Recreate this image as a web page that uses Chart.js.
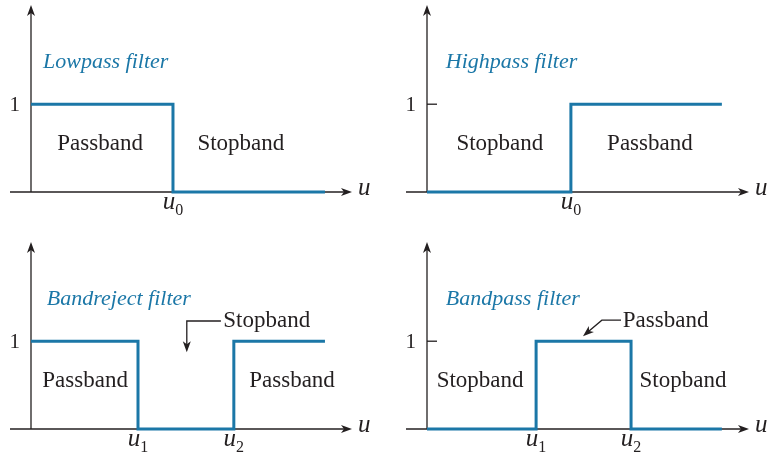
<!DOCTYPE html>
<html lang="en">
<head>
<meta charset="UTF-8">
<title>Ideal filter transfer functions</title>
<script src="https://cdn.jsdelivr.net/npm/chart.js"></script>
<style>
  html, body { margin: 0; padding: 0; background: #fff; }
  #wrap { position: relative; width: 767px; height: 454px; overflow: hidden; }
  #wrap canvas { position: absolute; }
</style>
</head>
<body>
<div id="wrap">
  <canvas id="lowpass" width="384" height="227" style="left:0;top:0"></canvas>
  <canvas id="highpass" width="383" height="227" style="left:384px;top:0"></canvas>
  <canvas id="bandreject" width="384" height="227" style="left:0;top:227px"></canvas>
  <canvas id="bandpass" width="383" height="227" style="left:384px;top:227px"></canvas>
</div>
<script>
// frequency u (line ends at 1) and filter response H(u)
const lowpassU = [0, 0.483, 0.483, 1];
const lowpassH = [1, 1, 0, 0];
const highpassU = [0, 0.488, 0.488, 1];
const highpassH = [0, 0, 1, 1];
const bandrejectU = [0, 0.364, 0.364, 0.69, 0.69, 1];
const bandrejectH = [1, 1, 0, 0, 1, 1];
const bandpassU = [0, 0.37, 0.37, 0.692, 0.692, 1];
const bandpassH = [0, 0, 1, 1, 0, 0];

// cutoff ticks on the u axis
const lowpassCuts = [0.483];
const lowpassCutLabels = ["0"];
const highpassCuts = [0.488];
const highpassCutLabels = ["0"];
const bandrejectCuts = [0.364, 0.69];
const bandrejectCutLabels = ["1", "2"];
const bandpassCuts = [0.37, 0.692];
const bandpassCutLabels = ["1", "2"];

const BLUE = "#1b77a7";
const INK = "#231f20";
const SERIF = "'Liberation Serif', 'DejaVu Serif', serif";

function arrowHead(ctx, x, y, angle) {
  ctx.save();
  ctx.translate(x, y);
  ctx.rotate(angle);
  ctx.beginPath();
  ctx.moveTo(0, 0);
  ctx.lineTo(-11, -4);
  ctx.lineTo(-8, 0);
  ctx.lineTo(-11, 4);
  ctx.closePath();
  ctx.fill();
  ctx.restore();
}

const axesPlugin = {
  id: "filterAxes",
  beforeDatasetsDraw(chart, args, opts) {
    const ctx = chart.ctx;
    const xs = chart.scales.x, ys = chart.scales.y;
    const x0 = xs.getPixelForValue(0);
    const y0 = ys.getPixelForValue(0);
    const y1 = ys.getPixelForValue(1);
    const area = chart.chartArea;
    ctx.save();
    ctx.strokeStyle = INK;
    ctx.fillStyle = INK;
    ctx.lineWidth = 1.3;
    // u axis
    ctx.beginPath();
    ctx.moveTo(x0 - 21, y0);
    ctx.lineTo(area.right - 4, y0);
    ctx.stroke();
    arrowHead(ctx, area.right, y0, 0);
    // H axis
    ctx.beginPath();
    ctx.moveTo(x0, y0);
    ctx.lineTo(x0, area.top + 4);
    ctx.stroke();
    arrowHead(ctx, x0, area.top, -Math.PI / 2);
    // tick at 1
    ctx.beginPath();
    ctx.moveTo(x0, y1);
    ctx.lineTo(x0 + 10, y1);
    ctx.stroke();
    ctx.restore();
  },
  afterDatasetsDraw(chart, args, opts) {
    const ctx = chart.ctx;
    const xs = chart.scales.x, ys = chart.scales.y;
    const x0 = xs.getPixelForValue(0);
    const y0 = ys.getPixelForValue(0);
    const y1 = ys.getPixelForValue(1);
    const area = chart.chartArea;
    ctx.save();
    ctx.fillStyle = INK;
    ctx.textBaseline = "alphabetic";
    // "1" label
    ctx.font = "21px " + SERIF;
    ctx.textAlign = "right";
    ctx.fillText("1", x0 - 11, y1 + 7);
    // axis name
    ctx.font = "italic 25px " + SERIF;
    ctx.textAlign = "left";
    ctx.fillText("u", area.right + 6, y0 + 3);
    // cutoff labels with subscripts
    opts.cuts.forEach((c, i) => {
      const px = xs.getPixelForValue(c);
      ctx.font = "italic 25px " + SERIF;
      const wu = ctx.measureText("u").width;
      ctx.font = "16px " + SERIF;
      const ws = ctx.measureText(opts.cutLabels[i]).width;
      const start = px - (wu + ws) / 2;
      ctx.font = "italic 25px " + SERIF;
      ctx.textAlign = "left";
      ctx.fillText("u", start, y0 + 17);
      ctx.font = "16px " + SERIF;
      ctx.fillText(opts.cutLabels[i], start + wu, y0 + 23);
    });
    // title
    ctx.fillStyle = BLUE;
    ctx.font = "italic 22px " + SERIF;
    ctx.textAlign = "left";
    ctx.fillText(opts.title.text, xs.getPixelForValue(opts.title.x), ys.getPixelForValue(1.41));
    // band labels
    ctx.fillStyle = INK;
    ctx.font = "23px " + SERIF;
    ctx.textAlign = "center";
    opts.bands.forEach(b => {
      ctx.fillText(b.text, xs.getPixelForValue(b.x), ys.getPixelForValue(0.475));
    });
    // callout
    if (opts.callout) {
      const cl = opts.callout;
      ctx.textAlign = "left";
      ctx.fillText(cl.text, xs.getPixelForValue(cl.x), ys.getPixelForValue(1.165));
      const pts = cl.path.map(p => [xs.getPixelForValue(p[0]), ys.getPixelForValue(p[1])]);
      ctx.strokeStyle = INK;
      ctx.lineWidth = 1.3;
      ctx.beginPath();
      ctx.moveTo(pts[0][0], pts[0][1]);
      for (let i = 1; i < pts.length - 1; i++) ctx.lineTo(pts[i][0], pts[i][1]);
      const a = pts[pts.length - 2], b = pts[pts.length - 1];
      const ang = Math.atan2(b[1] - a[1], b[0] - a[0]);
      ctx.lineTo(b[0] - 6 * Math.cos(ang), b[1] - 6 * Math.sin(ang));
      ctx.stroke();
      arrowHead(ctx, b[0], b[1], ang);
    }
    ctx.restore();
  }
};

function makeFilter(id, us, hs, pad, decor) {
  new Chart(document.getElementById(id), {
    type: "scatter",
    data: {
      datasets: [{
        data: us.map((u, i) => ({ x: u, y: hs[i] })),
        showLine: true,
        borderColor: BLUE,
        borderWidth: 3,
        pointRadius: 0,
        borderJoinStyle: "miter",
        borderCapStyle: "butt",
        clip: false
      }]
    },
    options: {
      responsive: false,
      animation: false,
      events: [],
      layout: { padding: pad },
      scales: {
        x: { type: "linear", min: 0, max: 1.092, display: false },
        y: { type: "linear", min: 0, max: 2.13, display: false }
      },
      plugins: {
        legend: { display: false },
        tooltip: { enabled: false },
        filterAxes: decor
      }
    },
    plugins: [axesPlugin]
  });
}

makeFilter("lowpass", lowpassU, lowpassH,
  { left: 31, right: 32, top: 5, bottom: 35 },
  { cuts: lowpassCuts, cutLabels: lowpassCutLabels,
    title: { text: "Lowpass filter", x: 0.041 },
    bands: [{ text: "Passband", x: 0.235 }, { text: "Stopband", x: 0.714 }] });

makeFilter("highpass", highpassU, highpassH,
  { left: 43, right: 18, top: 5, bottom: 35 },
  { cuts: highpassCuts, cutLabels: highpassCutLabels,
    title: { text: "Highpass filter", x: 0.064 },
    bands: [{ text: "Stopband", x: 0.247 }, { text: "Passband", x: 0.756 }] });

makeFilter("bandreject", bandrejectU, bandrejectH,
  { left: 31, right: 32, top: 15, bottom: 25 },
  { cuts: bandrejectCuts, cutLabels: bandrejectCutLabels,
    title: { text: "Bandreject filter", x: 0.054 },
    bands: [{ text: "Passband", x: 0.184 }, { text: "Passband", x: 0.888 }],
    callout: { text: "Stopband", x: 0.654, path: [[0.646, 1.23], [0.53, 1.23], [0.53, 0.874]] } });

makeFilter("bandpass", bandpassU, bandpassH,
  { left: 43, right: 18, top: 15, bottom: 25 },
  { cuts: bandpassCuts, cutLabels: bandpassCutLabels,
    title: { text: "Bandpass filter", x: 0.064 },
    bands: [{ text: "Stopband", x: 0.18 }, { text: "Stopband", x: 0.868 }],
    callout: { text: "Passband", x: 0.664, path: [[0.658, 1.24], [0.593, 1.24], [0.529, 1.057]] } });
</script>
</body>
</html>
